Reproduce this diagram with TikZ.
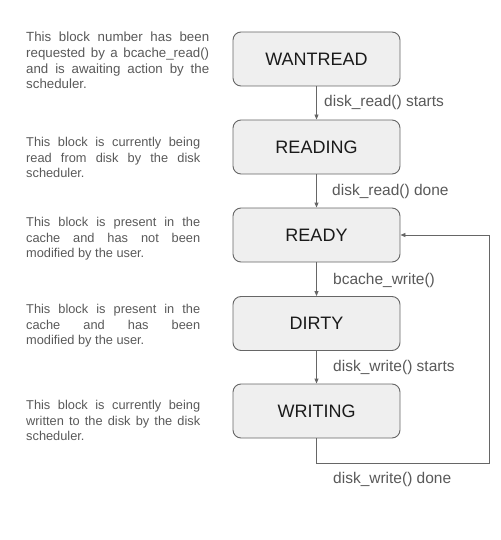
\documentclass[tikz,border=0pt]{standalone}
\usepackage{fontspec}
\setmainfont{Liberation Sans}
\usetikzlibrary{arrows.meta}
\definecolor{boxfill}{HTML}{EFEFEF}
\definecolor{linegray}{HTML}{666666}
\definecolor{labelgray}{HTML}{595959}
\definecolor{boxtext}{HTML}{1A1A1A}
\tikzset{
  statebox/.style={draw=linegray, fill=boxfill, line width=0.9pt, rounded corners=8pt,
    minimum width=167pt, minimum height=54pt, inner sep=0pt, text=boxtext,
    font=\fontsize{18}{21}\selectfont},
  arr/.style={draw=linegray, line width=0.9pt, -{Triangle[length=5pt,width=4pt]}},
  translabel/.style={anchor=west, inner sep=0pt, text=labelgray,
    font=\fontsize{15.5}{18}\selectfont},
  desc/.style={anchor=north west, inner sep=0pt, text=labelgray}
}
\newcommand{\descbox}[3]{\parbox[t]{#1}{\fontsize{#2}{15.6}\selectfont\hyphenpenalty=10000\tolerance=10000\hbadness=10000 #3}}
\begin{document}
\begin{tikzpicture}[x=1pt,y=-1pt]
\useasboundingbox (0,0) rectangle (500,540);
\node[statebox] (wantread) at (316.5,59) {WANTREAD};
\node[statebox] (reading) at (316.5,147) {READING};
\node[statebox] (ready) at (316.5,235) {READY};
\node[statebox] (dirty) at (316.5,323.5) {DIRTY};
\node[statebox] (writing) at (316.5,411) {WRITING};

\draw[arr] (wantread) -- (reading);
\draw[arr] (reading) -- (ready);
\draw[arr] (ready) -- (dirty);
\draw[arr] (dirty) -- (writing);
\coordinate (corner) at (489,463);
\draw[arr] (writing.south) |- (corner) |- (ready.east);

\node[translabel] (l1) at (324,102) {disk\_read() starts};
\node[translabel] (l2) at (332,191) {disk\_read() done};
\node[translabel] (l3) at (333,280) {bcache\_write()};
\node[translabel] (l4) at (333,367) {disk\_write() starts};
\node[translabel] (l5) at (333,479) {disk\_write() done};

\node[desc] (d1) at (26,32) {\descbox{183pt}{13.3}{This block number has been\linebreak requested by a bcache\_read()\linebreak and is awaiting action by the\linebreak scheduler.}};
\node[desc] (d2) at (26,137) {\descbox{174pt}{12.8}{This block is currently being\linebreak read from disk by the disk\linebreak scheduler.}};
\node[desc] (d3) at (26,217) {\descbox{174pt}{12.8}{This block is present in the\linebreak cache and has not been\linebreak modified by the user.}};
\node[desc] (d4) at (26,304) {\descbox{174pt}{12.8}{This block is present in the\linebreak cache and has been\linebreak modified by the user.}};
\node[desc] (d5) at (26,400) {\descbox{174pt}{12.8}{This block is currently being\linebreak written to the disk by the disk\linebreak scheduler.}};
\end{tikzpicture}
\end{document}
